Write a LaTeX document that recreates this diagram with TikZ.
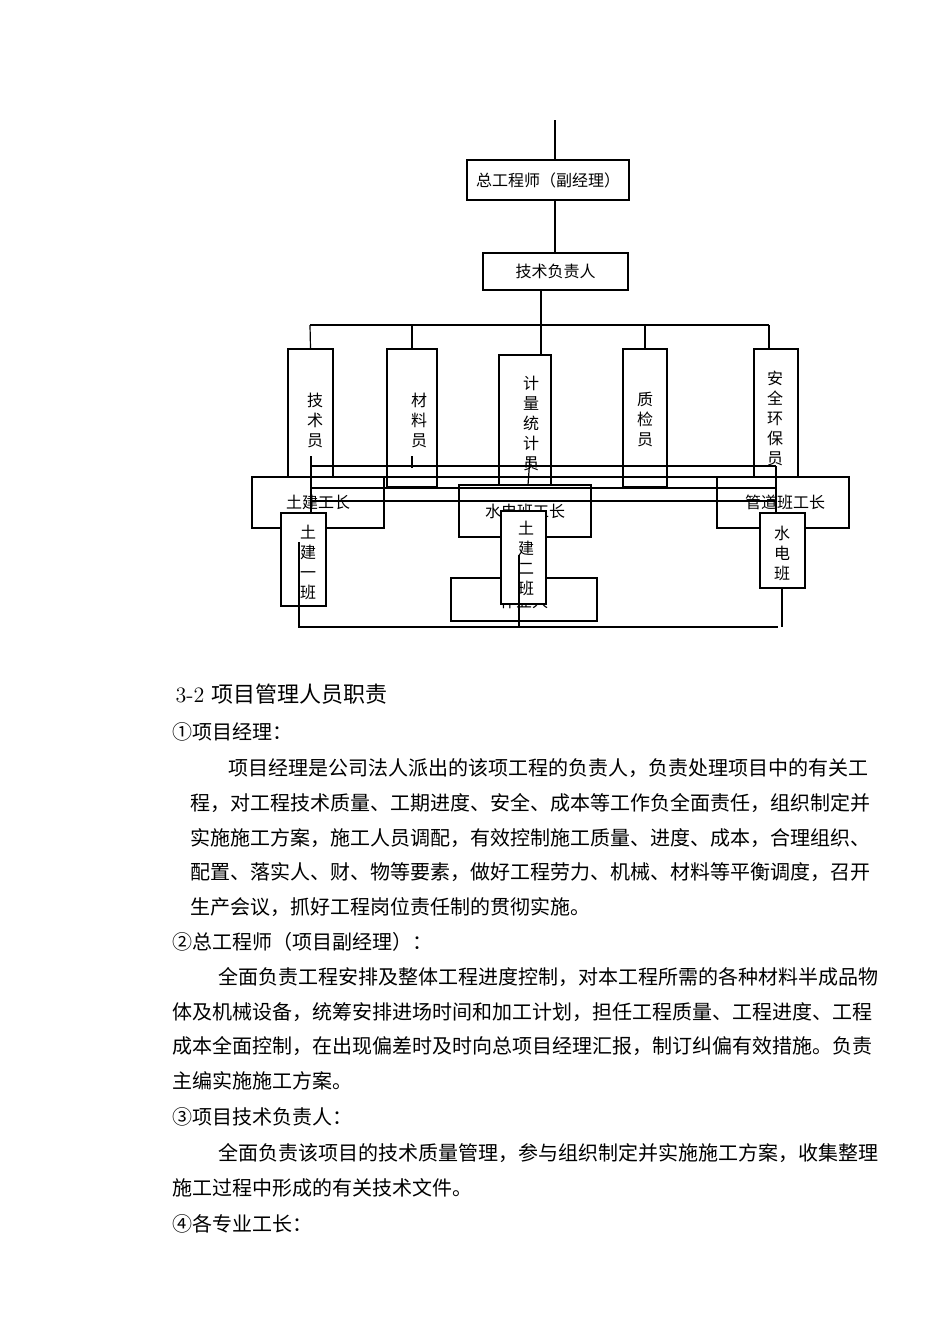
\documentclass[tikz,border=0pt]{standalone}
\usepackage{fontspec}
\newfontfamily\cjk{Noto Sans CJK SC}
\begin{document}
\begin{tikzpicture}[x=0.5pt,y=-0.5pt,line width=0.6pt,
  bx/.style={draw,fill=white,inner sep=0pt},
  lbl/.style={font=\cjk\fontsize{8}{9}\selectfont},
  vt/.style={font=\cjk\fontsize{8}{10}\selectfont,align=center},
  para/.style={anchor=west,inner sep=0pt,font=\cjk\fontsize{10}{12}\selectfont}]
\useasboundingbox (0,0) rectangle (950,1344);
% top
\coordinate (top) at (555,120);
\node[bx,minimum width=81pt,minimum height=20pt,lbl] (zg) at (548,180) {总工程师（副经理）};
\draw (top) -- (zg.north -| top);
\node[bx,minimum width=72.5pt,minimum height=18.5pt,lbl] (js) at (555.5,271.5) {技术负责人};
\draw (zg.south -| top) -- (js.north -| top);
\coordinate (bus) at (541,325);
\draw (js.south -| bus) -- (bus);
\draw (310,325) -- (769,325);
% staff boxes
\node[bx,minimum width=22.5pt,minimum height=64pt] (b1) at (310.5,413) {};
\node[bx,minimum width=25pt,minimum height=69pt] (b2) at (412,418) {};
\node[bx,minimum width=26pt,minimum height=65.5pt] (b3) at (525,420.5) {};
\node[bx,minimum width=22pt,minimum height=69pt] (b4) at (645,418) {};
\node[bx,minimum width=22pt,minimum height=64pt] (b5) at (776,413) {};
\draw (310,325) -- (b1.north);
\draw (412,325) -- (b2.north);
\draw (bus) -- (b3.north -| bus);
\draw (645,325) -- (b4.north);
\draw (769,325) -- (b5.north -| 769,0);
\node[vt] at (315,420) {技\\术\\员};
\node[vt] at (419,420) {材\\料\\员};
\node[vt] at (531,423) {计\\量\\统\\计\\员};
\node[vt] at (645,419) {质\\检\\员};
\node[vt] at (775,418) {安\\全\\环\\保\\员};
% foremen
\node[bx,minimum width=66pt,minimum height=25.5pt] (f1) at (318,502.5) {};
\node[bx,minimum width=66pt,minimum height=26pt] (f2) at (525,511) {};
\node[bx,minimum width=66pt,minimum height=25.5pt] (f3) at (783,502.5) {};
\draw (311,466) -- (776,466);
\draw (384,477) -- (717,477);
\draw (311,488) -- (776,488);
\draw (311,501) -- (776,501);
\draw (311,456) -- (311,513);
\draw (412,456) -- (412,468);
\draw (530,457) -- (528,485);
\draw (776,466) -- (776,513);
\node[lbl] at (318,502) {土建工长};
\node[lbl] at (525,511) {水电班工长};
\node[lbl] at (785,502) {管道班工长};
% crews
\node[bx,minimum width=73pt,minimum height=21.5pt] (zy) at (524,599.5) {};
\node[lbl] at (524,601) {作业人};
\node[bx,minimum width=22.5pt,minimum height=46.5pt] (c1) at (303.5,559.5) {};
\node[bx,minimum width=22.5pt,minimum height=46.5pt] (c2) at (523.5,557.5) {};
\node[bx,minimum width=22.5pt,minimum height=37.5pt] (c3) at (782.5,550.5) {};
\node[vt] at (308,562) {土\\建\\一\\班};
\node[vt] at (526,558) {土\\建\\二\\班};
\node[vt] at (782,553) {水\\电\\班};
\draw (299,542) -- (299,627) -- (778,627);
\draw (519,555) -- (519,627);
\draw (782,588) -- (782,627);
% text
\node[anchor=west,inner sep=0pt,font=\fontsize{11}{13}\selectfont] at (175,694) {3-2 {\cjk 项目管理人员职责}};
\node[para] at (172,732) {①项目经理：};
\node[para] at (228,768) {项目经理是公司法人派出的该项工程的负责人，负责处理项目中的有关工};
\node[para] at (190,803) {程，对工程技术质量、工期进度、安全、成本等工作负全面责任，组织制定并};
\node[para] at (190,838) {实施施工方案，施工人员调配，有效控制施工质量、进度、成本，合理组织、};
\node[para] at (190,872) {配置、落实人、财、物等要素，做好工程劳力、机械、材料等平衡调度，召开};
\node[para] at (190,907) {生产会议，抓好工程岗位责任制的贯彻实施。};
\node[para] at (172,942) {②总工程师（项目副经理）：};
\node[para] at (218,977) {全面负责工程安排及整体工程进度控制，对本工程所需的各种材料半成品物};
\node[para] at (172,1012) {体及机械设备，统筹安排进场时间和加工计划，担任工程质量、工程进度、工程};
\node[para] at (172,1046) {成本全面控制，在出现偏差时及时向总项目经理汇报，制订纠偏有效措施。负责};
\node[para] at (172,1081) {主编实施施工方案。};
\node[para] at (172,1117) {③项目技术负责人：};
\node[para] at (218,1153) {全面负责该项目的技术质量管理，参与组织制定并实施施工方案，收集整理};
\node[para] at (172,1188) {施工过程中形成的有关技术文件。};
\node[para] at (172,1224) {④各专业工长：};
\end{tikzpicture}
\end{document}
